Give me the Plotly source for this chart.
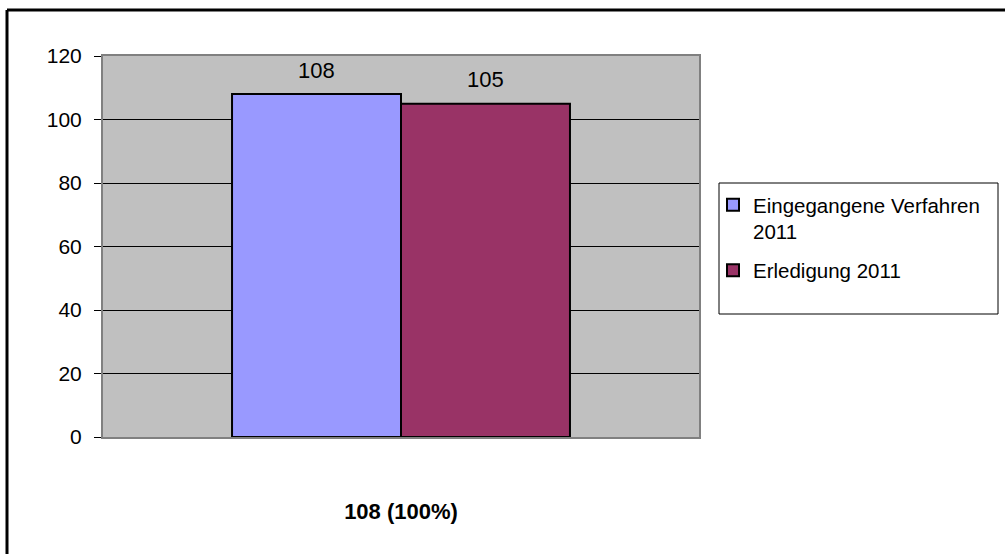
import plotly.graph_objects as go

categories = ["<b>108 (100%)</b>"]
series_names = ["Eingegangene Verfahren<br>2011", "Erledigung 2011"]
series_values = [[108], [105]]
series_colors = ["#9999FF", "#993366"]
y_ticks = [0, 20, 40, 60, 80, 100, 120]

W, H = 1005, 554
L, R, T, B = 103, 699, 56, 437  # plot area in pixels

def px(x):
    return (x - L) / (R - L)

def py(y):
    return (B - y) / (B - T)

bargap = 0.433
FONT = "Liberation Sans, Arial, sans-serif"

fig = go.Figure()
for k, (name, vals, col) in enumerate(zip(series_names, series_values, series_colors)):
    fig.add_trace(go.Bar(
        x=categories, y=vals, name=name, legendgroup=f"g{k}",
        marker=dict(color=col, line=dict(color="black", width=2)),
    ))

# value labels above bars
n = len(series_values)
group = 1 - bargap
for i, vals in enumerate(series_values):
    off = -group / 2 + group / n * (i + 0.5)
    for j, v in enumerate(vals):
        fig.add_annotation(x=j + off, y=v, text=str(v), showarrow=False,
                           yshift=24, yanchor="middle",
                           font=dict(size=22, color="black", family=FONT))

shapes = [
    # outer frame
    dict(type="line", xref="paper", yref="paper", x0=px(7), x1=px(1010), y0=py(10), y1=py(10),
         line=dict(color="black", width=3)),
    dict(type="line", xref="paper", yref="paper", x0=px(7), x1=px(7), y0=py(10), y1=py(560),
         line=dict(color="black", width=3)),
    # legend box
    dict(type="rect", xref="paper", yref="paper", x0=px(719), x1=px(998), y0=py(314), y1=py(183),
         line=dict(color="black", width=1), fillcolor="white", layer="below"),
]

fig.update_layout(
    width=W, height=H,
    margin=dict(l=L, r=W - R, t=T, b=H - B, pad=0),
    paper_bgcolor="white", plot_bgcolor="#C0C0C0",
    barmode="group", bargap=bargap, bargroupgap=0,
    font=dict(family=FONT, color="black", size=20),
    showlegend=True,
    legend=dict(x=px(713), y=py(185), xanchor="left", yanchor="top",
                bgcolor="rgba(0,0,0,0)", borderwidth=0,
                font=dict(size=20.5, color="black", family=FONT),
                valign="top", tracegroupgap=9, traceorder="grouped"),
    shapes=shapes,
)
fig.update_xaxes(type="category", showgrid=False, ticks="", showline=True, linecolor="#808080",
                 linewidth=2, mirror=True, layer="below traces",
                 tickfont=dict(size=22, color="black", family=FONT), ticklabelstandoff=54)
fig.update_yaxes(range=[0, 120], tickvals=y_ticks, ticktext=[str(v) for v in y_ticks],
                 showgrid=True, gridcolor="black", gridwidth=1, zeroline=False,
                 showline=True, linecolor="#808080", linewidth=2, mirror=True, layer="below traces",
                 ticks="outside", ticklen=7, tickcolor="black", tickwidth=1,
                 tickfont=dict(size=21, color="black", family=FONT), ticklabelstandoff=8)

fig.write_html("out.html", config={"displayModeBar": False},
               post_script="document.body.style.margin='0';")
